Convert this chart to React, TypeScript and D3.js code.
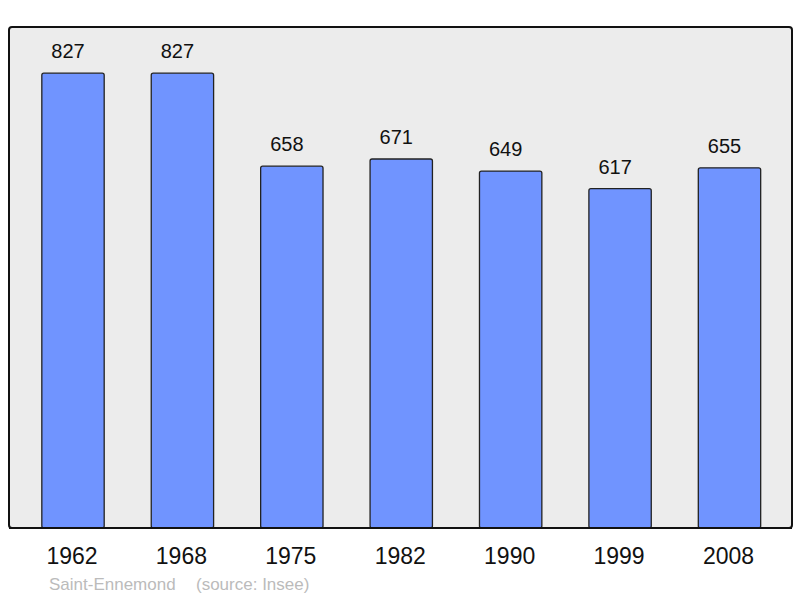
import * as d3 from 'd3';

const years = ['1962', '1968', '1975', '1982', '1990', '1999', '2008'];
const population = [827, 827, 658, 671, 649, 617, 655];
const commune = 'Saint-Ennemond';
const source = '(source: Insee)';

const width = 800;
const height = 598;
const frame = { left: 9, top: 27, right: 792, bottom: 528 };

export default function App(): JSX.Element {
  const x = d3.scaleBand<string>()
    .domain(years)
    .range([18.3, 784.2])
    .paddingInner(0.43)
    .paddingOuter(0.215);

  const y = d3.scaleLinear()
    .domain([0, 911])
    .range([frame.bottom, frame.top]);

  return (
    <svg
      width={width}
      height={height}
      style={{ position: 'absolute', left: 0, top: 0, fontFamily: '"Liberation Sans", Arial, sans-serif' }}
    >
      <rect x={0} y={0} width={width} height={height} fill="white" />
      {/* plot frame */}
      <rect
        x={frame.left}
        y={frame.top}
        width={frame.right - frame.left}
        height={frame.bottom - frame.top}
        rx={3}
        fill="#ececec"
        stroke="#111"
        strokeWidth={2}
      />

      {years.map((yr, i) => (
        <g key={yr}>
          <rect
            x={x(yr)}
            y={y(population[i])}
            width={x.bandwidth()}
            height={frame.bottom - y(population[i])}
            rx={2}
            fill="#7094ff"
            stroke="#222"
            strokeWidth={1.3}
          />
          <text
            x={(x(yr) ?? 0) + x.bandwidth() / 2 - 5}
            y={y(population[i]) - 15}
            textAnchor="middle"
            fontSize={20}
            fill="#111"
          >
            {population[i]}
          </text>
          <text
            x={(x(yr) ?? 0) + x.bandwidth() / 2 - 1}
            y={564}
            textAnchor="middle"
            fontSize={23}
            fill="#111"
          >
            {yr}
          </text>
        </g>
      ))}

      {/* base line over the bars */}
      <line x1={frame.left} x2={frame.right} y1={frame.bottom} y2={frame.bottom} stroke="#111" strokeWidth={2} />

      <text x={49} y={590} fontSize={17} fill="#bbbbbb">{commune}</text>
      <text x={196} y={590} fontSize={17} fill="#bbbbbb">{source}</text>
    </svg>
  );
}
